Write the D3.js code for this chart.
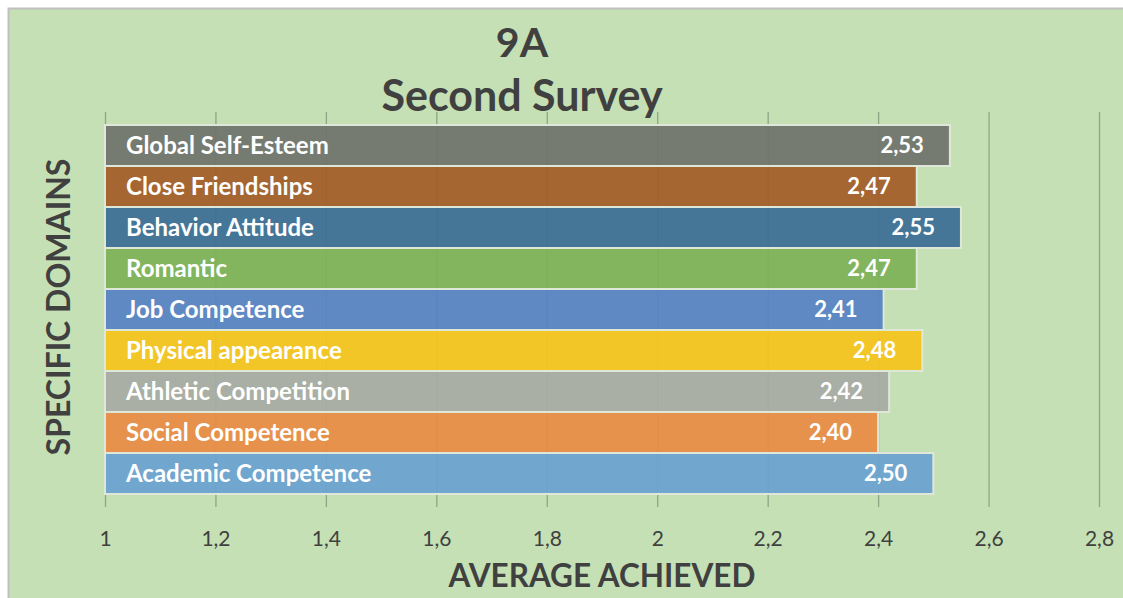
<!DOCTYPE html>
<html>
<head>
<meta charset="utf-8">
<script src="https://cdn.jsdelivr.net/npm/d3@7"></script>
<style>
  html, body { margin: 0; padding: 0; background: #fff; }
  #chart { width: 1123px; height: 598px; }
  text { font-family: Lato, "Open Sans", sans-serif; }
</style>
</head>
<body>
<div id="chart"></div>
<script>
// ---------- Data (top to bottom) ----------
const domains = [
  "Global Self-Esteem",
  "Close Friendships",
  "Behavior Attitude",
  "Romantic",
  "Job Competence",
  "Physical appearance",
  "Athletic Competition",
  "Social Competence",
  "Academic Competence",
];
const averages = [2.53, 2.47, 2.55, 2.47, 2.41, 2.48, 2.42, 2.40, 2.50];
const barColors = [
  "#70736c", "#a35c27", "#3b6e94", "#7db257", "#5682c4",
  "#f6c41d", "#a8aba4", "#e88b44", "#6aa3d1",
];
const xTicks = [1, 1.2, 1.4, 1.6, 1.8, 2, 2.2, 2.4, 2.6, 2.8];

const W = 1123, H = 598;
const svg = d3.select("#chart").append("svg").attr("width", W).attr("height", H);

// ---------- Frame ----------
svg.append("rect").attr("x", 8).attr("y", 8).attr("width", W - 8).attr("height", H - 8)
  .attr("fill", "#c5e0b4");
svg.append("path").attr("d", `M8.5,${H} V8.5 H${W}`)
  .attr("fill", "none").attr("stroke", "#bfbfbf").attr("stroke-width", 2);

// ---------- Scales ----------
const x = d3.scaleLinear().domain([1, 2.8]).range([105, 1099]);
const y = d3.scaleBand().domain(domains).range([125, 494]).paddingInner(0);

const fmt = (v) => d3.format(".2f")(v).replace(".", ",");
const fmtTick = (v) => String(+v.toFixed(1)).replace(".", ",");

// ---------- Gridlines + ticks ----------
svg.append("g")
  .attr("transform", `translate(0, 507)`)
  .call(d3.axisBottom(x).tickValues(xTicks).tickSize(-395).tickFormat(fmtTick).tickPadding(24))
  .call((g) => g.select(".domain").remove())
  .call((g) => g.selectAll("line").attr("stroke", "#869a7c").attr("stroke-width", 1.3).attr("stroke-opacity", 0.85))
  .call((g) => g.selectAll("text")
    .attr("fill", "#404040").attr("font-size", 21).attr("font-family", "Lato, sans-serif"));

// ---------- Bars ----------
const rows = domains.map((d, i) => ({ name: d, value: averages[i], color: barColors[i] }));

svg.append("g")
  .selectAll("rect")
  .data(rows)
  .enter()
  .append("rect")
  .attr("x", x(1))
  .attr("y", (d) => y(d.name))
  .attr("width", (d) => x(d.value) - x(1))
  .attr("height", y.bandwidth())
  .attr("fill", (d) => d.color)
  .attr("fill-opacity", 0.93)
  .attr("stroke", "#dfe8d8")
  .attr("stroke-width", 2);

// Category labels inside bars
svg.append("g")
  .selectAll("text")
  .data(rows)
  .enter()
  .append("text")
  .attr("x", 126)
  .attr("y", (d) => y(d.name) + y.bandwidth() / 2)
  .attr("dy", "0.36em")
  .attr("fill", "#fff")
  .attr("font-size", 24)
  .attr("font-weight", 700)
  .text((d) => d.name);

// Value labels
svg.append("g")
  .selectAll("text")
  .data(rows)
  .enter()
  .append("text")
  .attr("x", (d) => x(d.value) - 26)
  .attr("y", (d) => y(d.name) + y.bandwidth() / 2)
  .attr("dy", "0.36em")
  .attr("text-anchor", "end")
  .attr("fill", "#fff")
  .attr("font-size", 22)
  .attr("font-weight", 700)
  .text((d) => fmt(d.value));

// ---------- Titles ----------
svg.append("text").attr("x", 522).attr("y", 57).attr("text-anchor", "middle")
  .attr("fill", "#404040").attr("font-size", 41).attr("font-weight", 700).text("9A");
svg.append("text").attr("x", 522).attr("y", 111).attr("text-anchor", "middle")
  .attr("fill", "#404040").attr("font-size", 43).attr("font-weight", 700).text("Second Survey");

svg.append("text").attr("x", 602).attr("y", 587).attr("text-anchor", "middle")
  .attr("fill", "#404040").attr("font-size", 31.5).attr("font-weight", 700).text("AVERAGE ACHIEVED");

svg.append("text")
  .attr("transform", "translate(70, 307) rotate(-90)")
  .attr("text-anchor", "middle")
  .attr("fill", "#404040").attr("font-size", 32).attr("font-weight", 700).text("SPECIFIC DOMAINS");
</script>
</body>
</html>
